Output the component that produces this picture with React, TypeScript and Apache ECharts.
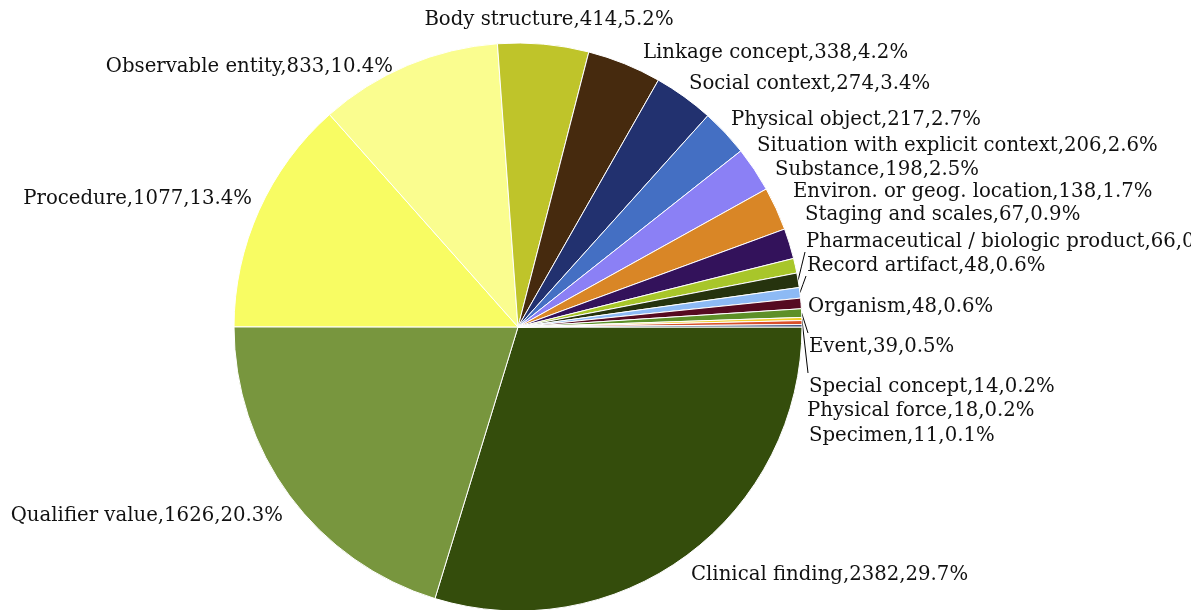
import React, { useEffect, useRef } from 'react';
import * as echarts from 'echarts';

const categories = [
  'Clinical finding',
  'Qualifier value',
  'Procedure',
  'Observable entity',
  'Body structure',
  'Linkage concept',
  'Social context',
  'Physical object',
  'Situation with explicit context',
  'Substance',
  'Environ. or geog. location',
  'Staging and scales',
  'Pharmaceutical / biologic product',
  'Record artifact',
  'Organism',
  'Event',
  'Special concept',
  'Physical force',
  'Specimen',
];
const counts = [2382, 1626, 1077, 833, 414, 338, 274, 217, 206, 198, 138, 67, 66, 48, 48, 39, 14, 18, 11];
const percentLabels = ['29.7%', '20.3%', '13.4%', '10.4%', '5.2%', '4.2%', '3.4%', '2.7%', '2.6%', '2.5%', '1.7%', '0.9%', '0.8%', '0.6%', '0.6%', '0.5%', '0.2%', '0.2%', '0.1%'];
const colors = [
  '#344d0c', '#78963e', '#f8fc63', '#fafd8f', '#bfc42a', '#462a0e', '#22316f', '#446fc3', '#8b80f5',
  '#d98626', '#33125b', '#a8c62a', '#26330e', '#8dbaf5', '#560a21', '#5e9028', '#f0d02a', '#d9502a', '#3b4b79',
];
const linedLabels = ['Pharmaceutical / biologic product', 'Record artifact', 'Event', 'Special concept'];

// label anchor placement (x, vertical centre, alignment) for each category label
const labelPlacement: [number, number, string][] = [
  [691, 573, 'left'],
  [283, 514, 'right'],
  [252, 197, 'right'],
  [393, 65, 'right'],
  [549, 18, 'center'],
  [643, 51, 'left'],
  [689, 82, 'left'],
  [731, 118, 'left'],
  [757, 144, 'left'],
  [775, 168, 'left'],
  [793, 190, 'left'],
  [805, 213, 'left'],
  [806, 240, 'left'],
  [807, 264, 'left'],
  [808, 305, 'left'],
  [809, 345, 'left'],
  [809, 385, 'left'],
  [807, 409, 'left'],
  [809, 434, 'left'],
];

const CX = 518;
const CY = 327;
const R = 284;

export default function App() {
  const ref = useRef<HTMLDivElement>(null);
  useEffect(() => {
    const chart = echarts.init(ref.current!, null, { renderer: 'svg' });
    const total = counts.reduce((a, b) => a + b, 0);
    const midAngles: number[] = [];
    let acc = 0;
    counts.forEach((v) => {
      midAngles.push(((acc + v / 2) / total) * Math.PI * 2);
      acc += v;
    });
    chart.setOption({
      animation: false,
      series: [
        {
          type: 'pie',
          center: [CX, CY],
          radius: R,
          startAngle: 0,
          clockwise: true,
          avoidLabelOverlap: false,
          itemStyle: { borderColor: '#fff', borderWidth: 1 },
          label: {
            show: true,
            position: 'outside',
            formatter: (p: any) => `${p.name},${p.value},${percentLabels[p.dataIndex]}`,
            fontFamily: 'DejaVu Serif',
            fontSize: 19.7,
            color: '#111',
            overflow: 'none',
          },
          labelLine: { show: false, length: 12, length2: 0, lineStyle: { color: '#000', width: 1 } },
          labelLayout: (params: any) => {
            const i = params.dataIndex;
            const [x, y, align] = labelPlacement[i];
            const out: any = { x, y, align, verticalAlign: 'middle', hideOverlap: false, moveOverlap: null };
            if (linedLabels.includes(categories[i])) {
              const a = midAngles[i];
              const ex = CX + R * Math.cos(a);
              const ey = CY + R * Math.sin(a);
              const tx = x - 1;
              const ty = y + (ey < y ? -12 : 12);
              out.labelLinePoints = [
                [ex, ey],
                [(ex + tx) / 2, (ey + ty) / 2],
                [tx, ty],
              ];
            }
            return out;
          },
          data: categories.map((name, i) => ({
            name,
            value: counts[i],
            itemStyle: { color: colors[i] },
            labelLine: { show: linedLabels.includes(name) },
          })),
        },
      ],
    });
    return () => chart.dispose();
  }, []);
  return <div ref={ref} style={{ position: 'fixed', left: 0, top: 0, width: 1191, height: 610 }} />;
}
